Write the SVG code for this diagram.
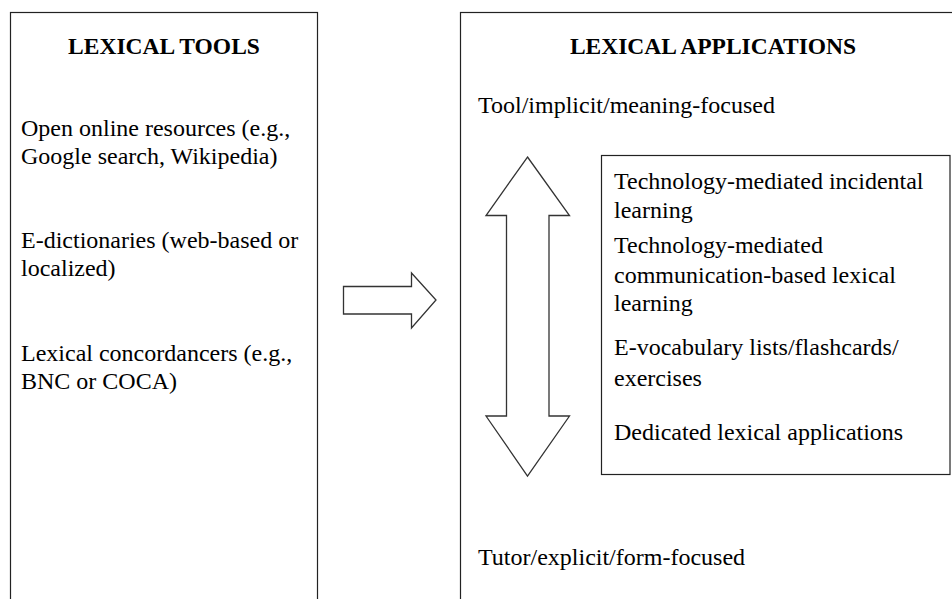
<svg xmlns="http://www.w3.org/2000/svg" width="952" height="599" viewBox="0 0 952 599">
<rect width="952" height="599" fill="#fff"/>
<g id="lexical-tools">
<rect x="10.5" y="12.5" width="307" height="600" fill="#fff" stroke="#222" stroke-width="1.2"/>
<text x="164" y="54" font-family="Liberation Serif" font-size="23.5" font-weight="bold" text-anchor="middle">LEXICAL TOOLS</text>
<text x="21" y="136" font-family="Liberation Serif" font-size="24">Open online resources (e.g.,</text>
<text x="21" y="164" font-family="Liberation Serif" font-size="24">Google search, Wikipedia)</text>
<text x="21" y="248" font-family="Liberation Serif" font-size="24">E-dictionaries (web-based or</text>
<text x="21" y="276" font-family="Liberation Serif" font-size="24">localized)</text>
<text x="21" y="361" font-family="Liberation Serif" font-size="24">Lexical concordancers (e.g.,</text>
<text x="21" y="389" font-family="Liberation Serif" font-size="24">BNC or COCA)</text>
</g>
<g id="lexical-applications">
<rect x="460.5" y="12.5" width="520" height="600" fill="#fff" stroke="#222" stroke-width="1.2"/>
<text x="713" y="54" font-family="Liberation Serif" font-size="23.5" font-weight="bold" text-anchor="middle">LEXICAL APPLICATIONS</text>
<text x="478" y="113" font-family="Liberation Serif" font-size="24">Tool/implicit/meaning-focused</text>
<text x="478" y="565" font-family="Liberation Serif" font-size="24">Tutor/explicit/form-focused</text>
</g>
<g id="applications-list">
<rect x="601.5" y="155.5" width="348.5" height="319" fill="#fff" stroke="#222" stroke-width="1.2"/>
<text x="614" y="189" font-family="Liberation Serif" font-size="24">Technology-mediated incidental</text>
<text x="614" y="218" font-family="Liberation Serif" font-size="24">learning</text>
<text x="614" y="253" font-family="Liberation Serif" font-size="24">Technology-mediated</text>
<text x="614" y="283" font-family="Liberation Serif" font-size="24">communication-based lexical</text>
<text x="614" y="311" font-family="Liberation Serif" font-size="24">learning</text>
<text x="614" y="355" font-family="Liberation Serif" font-size="24">E-vocabulary lists/flashcards/</text>
<text x="614" y="386" font-family="Liberation Serif" font-size="24">exercises</text>
<text x="614" y="440" font-family="Liberation Serif" font-size="24">Dedicated lexical applications</text>
</g>
<g id="connectors" fill="#fff" stroke="#333" stroke-width="1.3" stroke-linejoin="miter">
<polygon points="343.5,286.5 411.5,286.5 411.5,273 436,300 411.5,328 411.5,314 343.5,314"/>
<polygon points="527.5,157 569.5,215.5 549,215.5 549,416 569.5,416 527.5,476 486,416 506.5,416 506.5,215.5 486,215.5"/>
</g>
</svg>
